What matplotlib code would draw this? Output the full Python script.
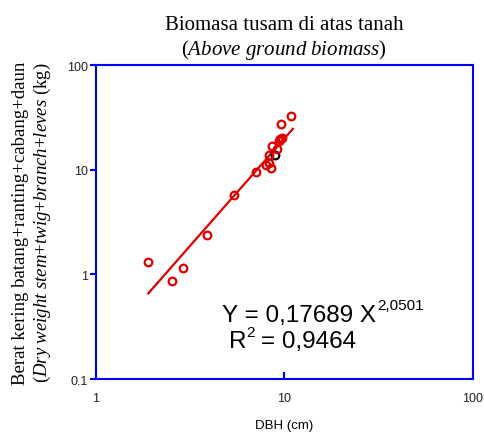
import numpy as np
import matplotlib.pyplot as plt

# Data
dbh = [1.90, 2.53, 2.90, 3.88, 5.42, 7.10, 8.00, 8.25, 8.46, 8.25, 8.56,
       9.14, 9.33, 9.52, 9.72, 9.64, 10.9]
biomass = [1.32, 0.87, 1.15, 2.37, 5.69, 9.57, 11.2, 11.6, 10.4, 13.9, 16.7,
           15.8, 19.0, 19.7, 20.0, 27.4, 32.7]
dbh_black = [8.88]
biomass_black = [13.9]

# fitted power curve Y = a X^b
a, b = 0.17689, 2.0501
fit_x = np.array([1.90, 11.1])

plt.rcParams['mathtext.fontset'] = 'custom'
plt.rcParams['mathtext.rm'] = 'Liberation Serif'
plt.rcParams['mathtext.it'] = 'Liberation Serif:italic'

fig = plt.figure(figsize=(4.84, 4.35), dpi=100)
ax = fig.add_axes([0.198, 0.1264, 0.779, 0.7218])

red = '#e00000'
ax.plot(fit_x, a * fit_x ** b, color=red, lw=1.6, zorder=2)
ax.plot(dbh_black, biomass_black, 'o', mfc='none', mec='black', ms=5.5, mew=1.6, zorder=3)
ax.plot(dbh, biomass, 'o', mfc='none', mec=red, ms=5.5, mew=1.6, zorder=4)

ax.set_xscale('log')
ax.set_yscale('log')
ax.set_xlim(1, 100)
ax.set_ylim(0.1, 100)
ax.set_xticks([1, 10, 100])
ax.set_xticklabels(['1', '10', '100'])
ax.set_yticks([0.1, 1, 10, 100])
ax.set_yticklabels(['0.1', '1', '10', '100'])
ax.minorticks_off()

for s in ax.spines.values():
    s.set_color('#0000ff')
    s.set_linewidth(1.5)

ax.tick_params(axis='x', direction='in', length=5, width=1.5, color='#0000ff',
               pad=9, labelsize=9, labelcolor='#222222', labelfontfamily='Liberation Sans')
ax.tick_params(axis='y', direction='out', length=4, width=1.5, color='#0000ff',
               pad=1.5, labelsize=9, labelcolor='#222222', labelfontfamily='Liberation Sans')

ax.set_xlabel('DBH (cm)', fontsize=9.5, family='Liberation Sans', labelpad=11)
ax.set_ylabel('Berat kering batang+ranting+cabang+daun\n'
              r'($Dry\ weight\ stem{+}twig{+}branch{+}leves$ (kg)',
              fontsize=13.5, family='Liberation Serif', linespacing=1.2, labelpad=10)

ax.set_title('Biomasa tusam di atas tanah\n'
             r'($Above\ ground\ biomass$)',
             fontsize=15, family='Liberation Serif', linespacing=1.15, pad=8)

# equation text
t1 = ax.text(0.335, 0.185, 'Y = 0,17689 X', transform=ax.transAxes,
             fontsize=17.5, family='Liberation Sans', va='baseline')
ax.annotate('2,0501', xy=(1, 1), xycoords=t1, xytext=(0.5, 4),
            textcoords='offset points', fontsize=11, family='Liberation Sans',
            va='top', ha='left')
t2 = ax.text(0.352, 0.101, 'R', transform=ax.transAxes,
             fontsize=17.5, family='Liberation Sans', va='baseline')
t3 = ax.annotate('2', xy=(1, 1), xycoords=t2, xytext=(0.5, 4),
                 textcoords='offset points', fontsize=11, family='Liberation Sans',
                 va='top', ha='left')
ax.annotate('= 0,9464', xy=(1, 0), xycoords=(t3, t2), xytext=(4, 0),
            textcoords='offset points', fontsize=17.5, family='Liberation Sans',
            va='bottom', ha='left')

fig.savefig('out.png', dpi=100)
